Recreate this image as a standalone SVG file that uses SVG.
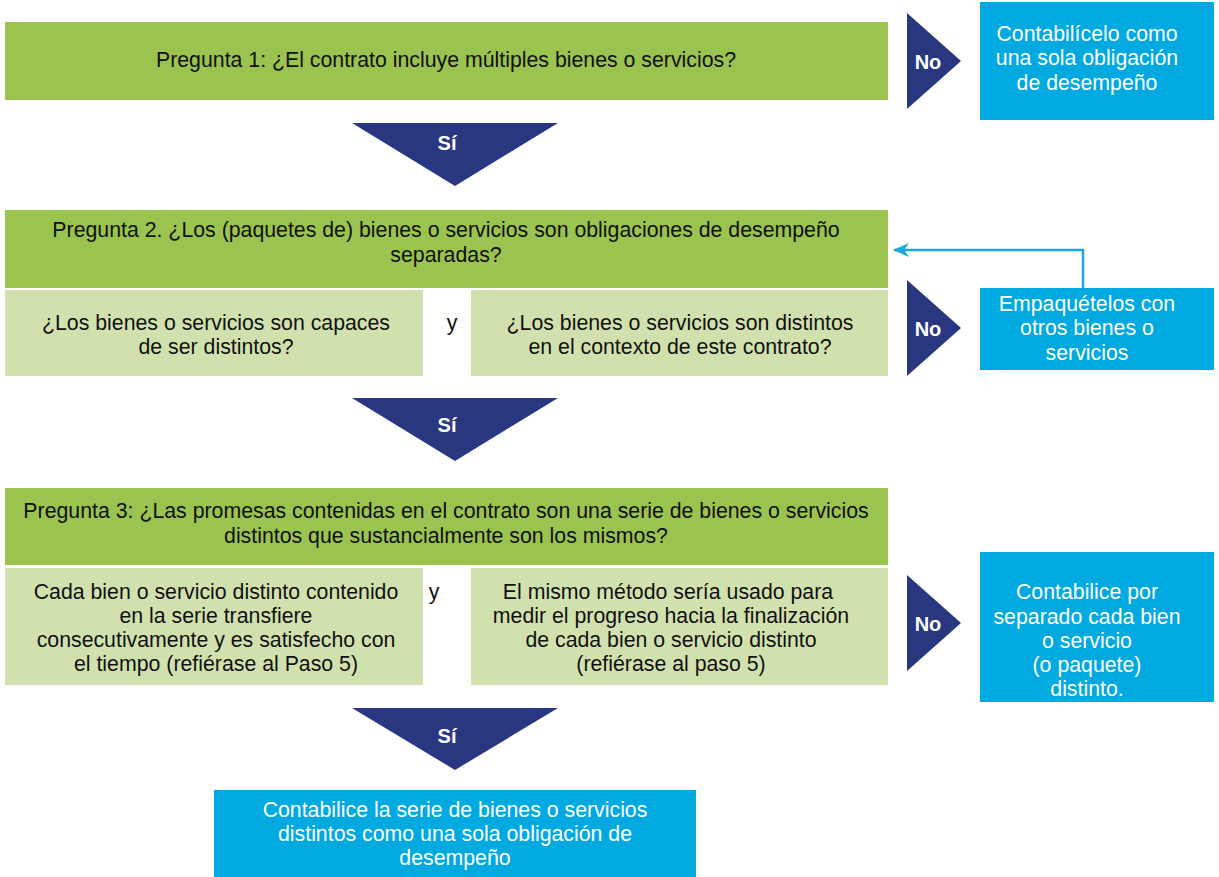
<svg xmlns="http://www.w3.org/2000/svg" width="1219" height="877" viewBox="0 0 1219 877">
<defs>
<style>
.q{fill:#9BC350}
.s{fill:#D1E1AE}
.b{fill:#00A9E0}
.tri{fill:#283780}
text{font-family:"Liberation Sans",Arial,sans-serif;font-size:21.3px;text-anchor:middle}
.dk{fill:#111}
.wt{fill:#fff}
.lbl{fill:#fff;font-weight:bold;font-size:20px}
.conn{fill:none;stroke:#1AA6DF;stroke-width:2.5}
</style>
<marker id="ah" markerWidth="16" markerHeight="14" refX="15" refY="7" orient="auto" markerUnits="userSpaceOnUse" viewBox="0 0 16 14">
<path d="M0,0 L16,7 L0,14 L5,7 Z" fill="#1AA6DF"/>
</marker>
</defs>
<rect width="1219" height="877" fill="#fff"/>

<g id="q1">
<rect class="q" x="5" y="22" width="883" height="78"/>
<text class="dk" x="446" y="67">Pregunta 1: ¿El contrato incluye múltiples bienes o servicios?</text>
</g>

<g id="no1">
<polygon class="tri" points="907,13 907,109 961,61"/>
<text class="lbl" x="928" y="69">No</text>
</g>

<g id="r1">
<rect class="b" x="980" y="2" width="234" height="118"/>
<text class="wt" x="1087" y="41">Contabilícelo como</text>
<text class="wt" x="1087" y="65">una sola obligación</text>
<text class="wt" x="1087" y="90">de desempeño</text>
</g>

<g id="si1">
<polygon class="tri" points="352,123 558,123 455,186"/>
<text class="lbl" x="447" y="150">Sí</text>
</g>

<g id="q2">
<rect class="q" x="5" y="210" width="883" height="78"/>
<text class="dk" x="446" y="237">Pregunta 2. ¿Los (paquetes de) bienes o servicios son obligaciones de desempeño</text>
<text class="dk" x="446" y="262">separadas?</text>
</g>

<g id="q2a">
<rect class="s" x="5" y="290" width="418" height="86"/>
<text class="dk" x="216" y="330">¿Los bienes o servicios son capaces</text>
<text class="dk" x="216" y="354">de ser distintos?</text>
</g>
<g id="q2y"><text class="dk" x="452" y="330">y</text></g>
<g id="q2b">
<rect class="s" x="471" y="290" width="417" height="86"/>
<text class="dk" x="680" y="330">¿Los bienes o servicios son distintos</text>
<text class="dk" x="680" y="354">en el contexto de este contrato?</text>
</g>

<g id="no2">
<polygon class="tri" points="907,280 907,376 961,328"/>
<text class="lbl" x="928" y="336">No</text>
</g>

<g id="r2">
<rect class="b" x="980" y="288" width="234" height="82"/>
<text class="wt" x="1087" y="311">Empaquételos con</text>
<text class="wt" x="1087" y="335">otros bienes o</text>
<text class="wt" x="1087" y="360">servicios</text>
</g>

<g id="si2">
<polygon class="tri" points="352,398 558,398 455,461"/>
<text class="lbl" x="447" y="432">Sí</text>
</g>

<g id="q3">
<rect class="q" x="5" y="488" width="883" height="77"/>
<text class="dk" x="446" y="518">Pregunta 3: ¿Las promesas contenidas en el contrato son una serie de bienes o servicios</text>
<text class="dk" x="446" y="543">distintos que sustancialmente son los mismos?</text>
</g>

<g id="q3a">
<rect class="s" x="5" y="568" width="418" height="117"/>
<text class="dk" x="216" y="599">Cada bien o servicio distinto contenido</text>
<text class="dk" x="216" y="623">en la serie transfiere</text>
<text class="dk" x="216" y="647">consecutivamente y es satisfecho con</text>
<text class="dk" x="216" y="671">el tiempo (refiérase al Paso 5)</text>
</g>
<g id="q3y"><text class="dk" x="434" y="599">y</text></g>
<g id="q3b">
<rect class="s" x="471" y="568" width="417" height="117"/>
<text class="dk" x="668" y="599">El mismo método sería usado para</text>
<text class="dk" x="671" y="623">medir el progreso hacia la finalización</text>
<text class="dk" x="671" y="647">de cada bien o servicio distinto</text>
<text class="dk" x="671" y="671">(refiérase al paso 5)</text>
</g>

<g id="no3">
<polygon class="tri" points="907,575 907,671 961,623"/>
<text class="lbl" x="928" y="631">No</text>
</g>

<g id="r3">
<rect class="b" x="980" y="552" width="234" height="150"/>
<text class="wt" x="1087" y="599">Contabilice por</text>
<text class="wt" x="1087" y="624">separado cada bien</text>
<text class="wt" x="1087" y="648">o servicio</text>
<text class="wt" x="1087" y="672">(o paquete)</text>
<text class="wt" x="1087" y="696">distinto.</text>
</g>

<g id="si3">
<polygon class="tri" points="352,708 558,708 455,770"/>
<text class="lbl" x="447" y="743">Sí</text>
</g>

<g id="r4">
<rect class="b" x="214" y="790" width="482" height="87"/>
<text class="wt" x="455" y="817">Contabilice la serie de bienes o servicios</text>
<text class="wt" x="455" y="841">distintos como una sola obligación de</text>
<text class="wt" x="455" y="865">desempeño</text>
</g>

<g id="connectors">
<path class="conn" d="M1083,288 V250 H894" marker-end="url(#ah)"/>
</g>
</svg>
